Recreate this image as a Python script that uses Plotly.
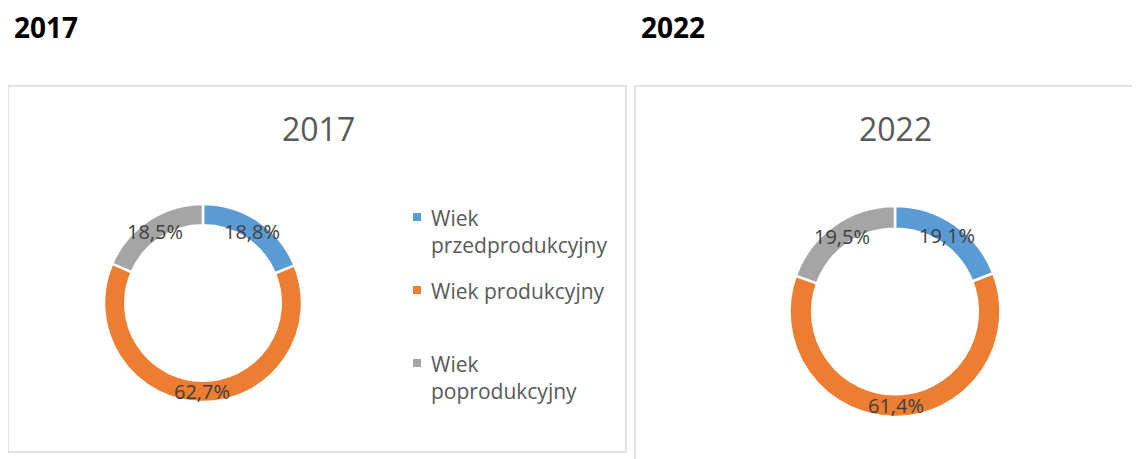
import math
import plotly.graph_objects as go

# ---- data ----
categories = ["Wiek przedprodukcyjny", "Wiek produkcyjny", "Wiek poprodukcyjny"]
legend_labels = ["Wiek<br>przedprodukcyjny", "Wiek produkcyjny", "Wiek<br>poprodukcyjny"]
values_2017 = [18.8, 62.7, 18.5]
values_2022 = [19.1, 61.4, 19.5]
years = ["2017", "2022"]
colors = ["#5B9BD5", "#ED7D31", "#A5A5A5"]

# page body has an 8px margin; size the figure so it fits the window
OFF = 8
W, H = 1140 - OFF, 459 - OFF
FONT = "Open Sans"

def px(x):
    return (x - OFF) / W

def py(y):
    return 1 - (y - OFF) / H

def fmt(v):
    return f"{v:.1f}".replace(".", ",") + "%"

# pie geometry (window pixels): center x, center y, outer radius
pies = [
    dict(year=years[0], vals=values_2017, cx=203, cy=303, r=99, title_x=318),
    dict(year=years[1], vals=values_2022, cx=895, cy=311.5, r=105.5, title_x=895),
]

fig = go.Figure()
annotations = []
shapes = []

# chart boxes
shapes.append(dict(type="rect", xref="paper", yref="paper",
                   x0=px(8), x1=px(626), y0=py(452), y1=py(86),
                   line=dict(color="#D9D9D9", width=1.5), fillcolor="rgba(0,0,0,0)", layer="below"))
shapes.append(dict(type="rect", xref="paper", yref="paper",
                   x0=px(635), x1=px(1160), y0=py(470), y1=py(86),
                   line=dict(color="#D9D9D9", width=1.5), fillcolor="rgba(0,0,0,0)", layer="below"))

# headings
for txt, hx in zip(years, [12, 639]):
    annotations.append(dict(text=f"<b>{txt}</b>", x=px(hx), y=py(27), xref="paper", yref="paper",
                            xanchor="left", yanchor="middle", showarrow=False,
                            font=dict(family=FONT, size=28, color="#000000")))

hole = 0.785
for p in pies:
    cx, cy, r = p["cx"], p["cy"], p["r"]
    fig.add_trace(go.Pie(
        labels=categories, values=p["vals"], hole=hole, sort=False,
        direction="clockwise", rotation=0, textinfo="none", hoverinfo="label+percent",
        marker=dict(colors=colors, line=dict(color="white", width=2.5)),
        domain=dict(x=[px(cx - r), px(cx + r)], y=[py(cy + r), py(cy - r)]),
        showlegend=False,
    ))
    # chart title
    annotations.append(dict(text=p["year"], x=px(p["title_x"]), y=py(128), xref="paper", yref="paper",
                            xanchor="center", yanchor="middle", showarrow=False,
                            font=dict(family=FONT, size=32, color="#595959")))
    # data labels at ring middle
    total = sum(p["vals"])
    cum = 0.0
    rl = r * 0.88
    for v in p["vals"]:
        mid = (cum + v / 2) / total * 2 * math.pi
        cum += v
        lx = cx + rl * math.sin(mid)
        ly = cy - rl * math.cos(mid)
        annotations.append(dict(text=fmt(v), x=px(lx), y=py(ly + 1), xref="paper", yref="paper",
                                xanchor="center", yanchor="middle", showarrow=False,
                                font=dict(family=FONT, size=20, color="#404040")))

# legend (left chart)
legend_rows = [217, 290, 363]
for lbl, col, yc in zip(legend_labels, colors, legend_rows):
    shapes.append(dict(type="rect", xref="paper", yref="paper",
                       x0=px(413), x1=px(421), y0=py(yc + 4), y1=py(yc - 4),
                       line=dict(width=0), fillcolor=col))
    annotations.append(dict(text=lbl, x=px(429), y=py(yc - 15), xref="paper", yref="paper",
                            xanchor="left", yanchor="top", align="left", showarrow=False,
                            font=dict(family=FONT, size=21, color="#595959")))

fig.update_layout(
    width=W, height=H,
    margin=dict(l=0, r=0, t=0, b=0),
    paper_bgcolor="white", plot_bgcolor="white",
    annotations=annotations, shapes=shapes,
    showlegend=False,
)

fig.write_html("out.html")
